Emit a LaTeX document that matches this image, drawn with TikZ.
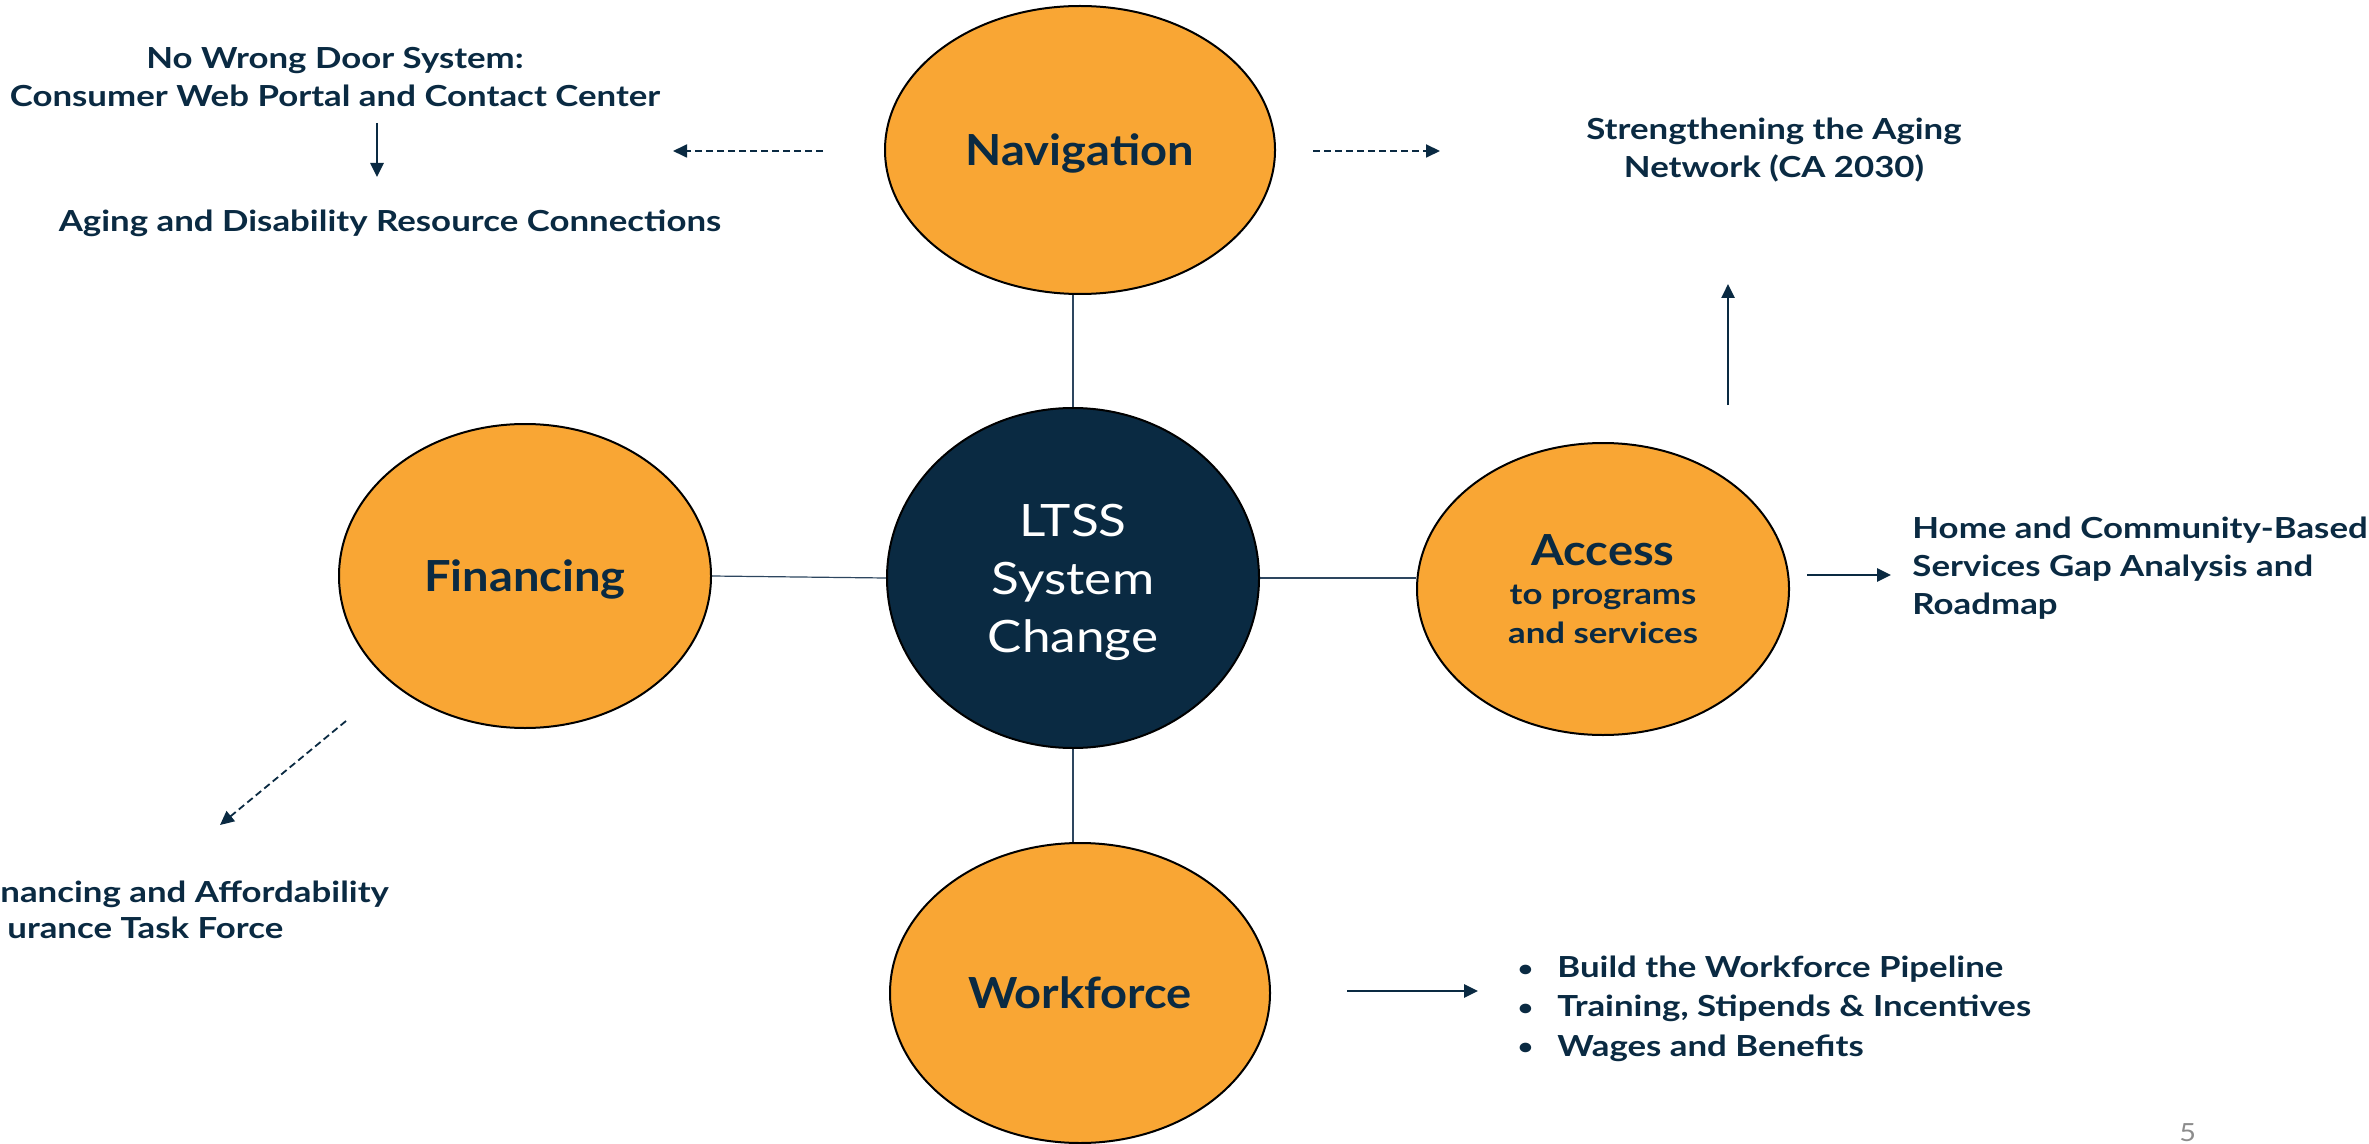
\documentclass[tikz,border=0pt]{standalone}
\usepackage{fontspec}
\setmainfont{Lato}
\newfontfamily\smfam{Lato}[FakeStretch=1.2]
\newfontfamily\bgfam{Lato}[FakeStretch=1.1]
\newfontfamily\ltfam{Lato}[FakeStretch=1.15]
\usetikzlibrary{shapes.geometric,arrows.meta,backgrounds}
\definecolor{navy}{RGB}{10,42,66}
\definecolor{orng}{RGB}{249,166,52}
\definecolor{linec}{RGB}{45,70,95}
\definecolor{pgnum}{RGB}{140,140,140}
\newcommand{\bigf}{\bgfam\bfseries\fontsize{21.4}{26}\selectfont}
\newcommand{\smf}{\smfam\bfseries\fontsize{14.5}{19}\selectfont}
\newcommand{\bul}{\makebox[8pt][c]{\fontsize{11}{11}\selectfont\raisebox{0.6pt}{•}}\hspace{12pt}}
\begin{document}
\begin{tikzpicture}[x=0.5pt,y=-0.5pt,
  bub/.style={ellipse,draw=black,line width=1pt,fill=orng,inner sep=0pt,text=navy,font=\bigf,text depth=0pt,align=center},
  hub/.style={ellipse,draw=black,line width=1pt,fill=navy,inner sep=0pt,text=white,align=center,text depth=0pt,
    font=\ltfam\fontsize{22.3}{29}\selectfont},
  lbl/.style={font=\smf,text=navy,inner sep=0pt},
  link/.style={draw=linec,line width=0.6pt},
  arr/.style={draw=navy,line width=1.3pt,-{Triangle[length=7pt,width=6.5pt]}},
  darr/.style={draw=navy,line width=0.9pt,dash pattern=on 3.5pt off 2pt,-{Triangle[length=7pt,width=6.5pt]}},
]
\useasboundingbox (0,0) rectangle (2369,1144);
\clip (0,0) rectangle (2369,1144);

% bubbles
\node[bub,minimum width=195pt,minimum height=144pt] (nav) at (1080,150) {Navigation};
\node[hub,minimum width=186pt,minimum height=170pt] (ltss) at (1073,578) {LTSS\\System\\Change};
\node[bub,minimum width=186pt,minimum height=152pt] (fin) at (525,576) {Financing};
\node[bub,minimum width=186pt,minimum height=146pt,font=\smfam\bfseries\fontsize{14.5}{19.5}\selectfont] (acc) at (1603,589)
  {{\bigf Access}\\to programs\\and services};
\node[bub,minimum width=190pt,minimum height=150pt] (wf) at (1080,993) {Workforce};

% links
\begin{pgfonlayer}{background}
\draw[link] (ltss.north) -- (ltss.north |- nav.south);
\draw[link] (ltss.south) -- (ltss.south |- wf.north);
\draw[link] (fin.east) -- (ltss.west);
\draw[link] (ltss.east) -- (ltss.east -| acc.west);
\end{pgfonlayer}

% text labels (anchor=base is the baseline of the last line)
\node[lbl,align=center,anchor=base] (nwd) at (335,107) {No Wrong Door System:\\Consumer Web Portal and Contact Center};
\node[lbl,anchor=base] (adrc) at (390,232) {Aging and Disability Resource Connections};
\node[lbl,align=center,anchor=base] (sagn) at (1774,178) {Strengthening the Aging\\Network (CA 2030)};
\node[lbl,align=left,anchor=base west] (hcbs) at (1912,614) {Home and Community-Based\\Services Gap Analysis and\\Roadmap};
\node[lbl,align=left,anchor=base west,font=\smfam\bfseries\fontsize{14.5}{18}\selectfont] (fatf) at (0,938) {nancing and Affordability\\\hspace*{3.5pt}urance Task Force};
\node[lbl,align=left,anchor=base west,font=\smfam\bfseries\fontsize{14.5}{19.7}\selectfont] (wfl) at (1517,1056)
  {\bul Build the Workforce Pipeline\\
   \bul Training, Stipends \& Incentives\\
   \bul Wages and Benefits};
\node[font=\ltfam\fontsize{12.5}{15}\selectfont,text=pgnum,inner sep=0pt,anchor=base west] (pg) at (2179,1141) {5};

% arrow end points
\coordinate (a1s) at (823,151); \coordinate (a1e) at (673,151);
\coordinate (a2s) at (1313,151); \coordinate (a2e) at (1440,151);
\coordinate (a3s) at (377,123); \coordinate (a3e) at (377,177);
\coordinate (a4s) at (1728,405); \coordinate (a4e) at (1728,284);
\coordinate (a5s) at (1807,575); \coordinate (a5e) at (1891,575);
\coordinate (a6s) at (346,721); \coordinate (a6e) at (220,825);
\coordinate (a7s) at (1347,991); \coordinate (a7e) at (1478,991);

\draw[darr] (a1s) -- (a1e);
\draw[darr] (a2s) -- (a2e);
\draw[arr] (a3s) -- (a3e);
\draw[arr] (a4s) -- (a4e);
\draw[arr] (a5s) -- (a5e);
\draw[darr] (a6s) -- (a6e);
\draw[arr] (a7s) -- (a7e);
\end{tikzpicture}
\end{document}
